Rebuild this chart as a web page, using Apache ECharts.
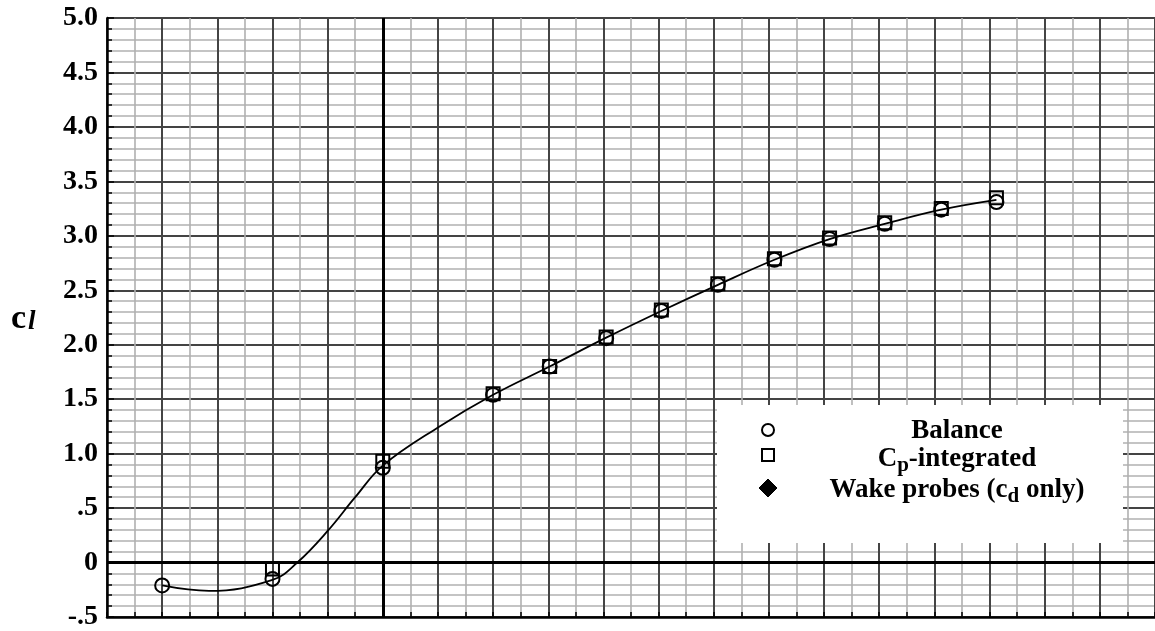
<!DOCTYPE html>
<html>
<head>
<meta charset="utf-8">
<script src="https://cdn.jsdelivr.net/npm/echarts@6/dist/echarts.min.js"></script>
<style>
  html, body { margin: 0; padding: 0; background: #fff; }
  #chart { width: 1155px; height: 631px; }
</style>
</head>
<body>
<div id="chart"></div>
<script>
// Angle of attack (deg) for the measured points
const balanceAlpha = [-8, -4, 0, 4.0, 6.05, 8.1, 10.1, 12.15, 14.2, 16.2, 18.2, 20.25, 22.25];
const balanceCl    = [-0.21, -0.15, 0.87, 1.54, 1.80, 2.06, 2.31, 2.55, 2.78, 2.97, 3.11, 3.24, 3.31];

const cpAlpha = [-4, 0, 4.0, 6.05, 8.1, 10.1, 12.15, 14.2, 16.2, 18.2, 20.25, 22.25];
const cpCl    = [-0.06, 0.93, 1.55, 1.80, 2.07, 2.32, 2.56, 2.79, 2.98, 3.12, 3.25, 3.35];

// Faired curve through the data
const curveAlpha = [-8, -6.3, -4, -3.1, -2, -1, 0, 2, 4.0, 6.05, 8.1, 10.1, 12.15, 14.2, 16.2, 18.2, 20.25, 22.25];
const curveCl    = [-0.21, -0.26, -0.16, 0.0, 0.29, 0.60, 0.89, 1.24, 1.54, 1.80, 2.065, 2.31, 2.55, 2.78, 2.97, 3.11, 3.24, 3.33];

// Legend entries
const legendLabels = ['Balance', 'Cp-integrated', 'Wake probes (cd only)'];

const serif = '"Liberation Serif", "DejaVu Serif", serif';

function pairs(xs, ys) { return xs.map((x, i) => [x, ys[i]]); }

function yLabel(v) {
  if (Math.abs(v) < 1e-9) return '0';
  if (Math.abs(v) < 1) return (v < 0 ? '-' : '') + '.' + String(Math.round(Math.abs(v) * 10));
  return v.toFixed(1);
}

const chart = echarts.init(document.getElementById('chart'), null, { renderer: 'canvas' });

const markerStyle = { color: 'rgba(0,0,0,0)', borderColor: '#000', borderWidth: 2, opacity: 1 };

chart.setOption({
  animation: false,
  backgroundColor: '#fff',
  grid: { left: 107, top: 18, right: -5, bottom: 4 },
  xAxis: {
    type: 'value',
    min: -10, max: 28, interval: 2,
    axisLine: { show: true, onZero: false, lineStyle: { color: '#000', width: 2.5 } },
    axisTick: { show: true, inside: true, length: 5, lineStyle: { color: '#000', width: 1.5 } },
    minorTick: { show: true, splitNumber: 2, length: 5, lineStyle: { color: '#000', width: 1.5 } },
    axisLabel: { show: false },
    splitLine: { show: true, lineStyle: { color: '#444', width: 2 } },
    minorSplitLine: { show: true, lineStyle: { color: '#b0b0b0', width: 1.6 } }
  },
  yAxis: {
    type: 'value',
    min: -0.5, max: 5, interval: 0.5,
    axisLine: { show: true, onZero: false, lineStyle: { color: '#000', width: 2.5 } },
    axisTick: { show: true, inside: true, length: 7, lineStyle: { color: '#000', width: 1.5 } },
    minorTick: { show: true, splitNumber: 5, length: 5, lineStyle: { color: '#000', width: 1.5 } },
    axisLabel: {
      show: true, margin: 9, formatter: yLabel,
      fontFamily: serif, fontWeight: 'bold', fontSize: 28, color: '#000'
    },
    splitLine: { show: true, lineStyle: { color: '#444', width: 2 } },
    minorSplitLine: { show: true, lineStyle: { color: '#b0b0b0', width: 1.6 } }
  },
  series: [
    {
      name: 'curve', type: 'line', data: pairs(curveAlpha, curveCl),
      smooth: 0.4, showSymbol: false, symbol: 'none',
      lineStyle: { color: '#000', width: 1.8 }, z: 3, silent: true,
      markLine: {
        silent: true, symbol: 'none', label: { show: false },
        lineStyle: { color: '#000', width: 3, type: 'solid' },
        data: [{ xAxis: 0 }, { yAxis: 0 }]
      }
    },
    {
      name: legendLabels[0], type: 'scatter', data: pairs(balanceAlpha, balanceCl),
      symbol: 'circle', symbolSize: 14, itemStyle: markerStyle, z: 4
    },
    {
      name: legendLabels[1], type: 'scatter', data: pairs(cpAlpha, cpCl),
      symbol: 'rect', symbolSize: 13, itemStyle: markerStyle, z: 5
    }
  ],
  graphic: [
    // axis title c_l
    {
      type: 'text', left: 11, top: 302, z: 100,
      style: {
        text: '{c|c}{l|l}', fill: '#000',
        rich: {
          c: { fontFamily: serif, fontWeight: 'bold', fontSize: 34, fill: '#000', verticalAlign: 'bottom' },
          l: { fontFamily: serif, fontWeight: 'bold', fontStyle: 'italic', fontSize: 27, fill: '#000', padding: [12, 0, 0, 2] }
        }
      }
    },
    // legend box
    {
      type: 'rect', z: 100,
      shape: { x: 717, y: 405, width: 406, height: 138 },
      style: { fill: '#fff', stroke: null }
    },
    {
      type: 'circle', z: 101,
      shape: { cx: 768, cy: 430, r: 6 },
      style: { fill: '#fff', stroke: '#000', lineWidth: 2 }
    },
    {
      type: 'rect', z: 101,
      shape: { x: 762, y: 449, width: 12, height: 12 },
      style: { fill: '#fff', stroke: '#000', lineWidth: 2 }
    },
    {
      type: 'polygon', z: 101,
      shape: { points: [[768, 479], [777, 488], [768, 497], [759, 488]] },
      style: { fill: '#000', stroke: '#000' }
    },
    {
      type: 'text', z: 101, x: 957, y: 431,
      style: {
        text: legendLabels[0], align: 'center', verticalAlign: 'middle',
        fontFamily: serif, fontWeight: 'bold', fontSize: 27, fill: '#000'
      }
    },
    {
      type: 'text', z: 101, x: 957, y: 459,
      style: {
        text: '{n|C}{s|p}{n|-integrated}', align: 'center', verticalAlign: 'middle', fill: '#000',
        rich: {
          n: { fontFamily: serif, fontWeight: 'bold', fontSize: 27, fill: '#000' },
          s: { fontFamily: serif, fontWeight: 'bold', fontSize: 21, fill: '#000', padding: [14, 0, 0, 0] }
        }
      }
    },
    {
      type: 'text', z: 101, x: 957, y: 490,
      style: {
        text: '{n|Wake probes (c}{s|d}{n| only)}', align: 'center', verticalAlign: 'middle', fill: '#000',
        rich: {
          n: { fontFamily: serif, fontWeight: 'bold', fontSize: 27, fill: '#000' },
          s: { fontFamily: serif, fontWeight: 'bold', fontSize: 21, fill: '#000', padding: [14, 0, 0, 0] }
        }
      }
    }
  ]
});
</script>
</body>
</html>
